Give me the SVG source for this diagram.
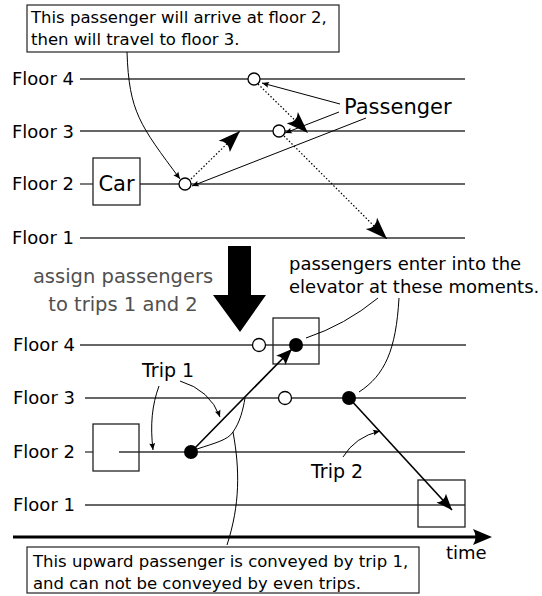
<svg xmlns="http://www.w3.org/2000/svg" width="542" height="596" viewBox="0 0 542 596">
<defs>
<style>
text{font-family:"DejaVu Sans","Liberation Sans",sans-serif;fill:#000}
.lbl{font-size:18px}
.note{font-size:16.5px}
.floor{stroke:#333;stroke-width:1.3;fill:none}
.box{stroke:#222;stroke-width:1.3;fill:none}
.thin{stroke:#000;stroke-width:1;fill:none}
.dot{stroke:#000;stroke-width:1.2;fill:none;stroke-dasharray:1.5,2}
.open{stroke:#000;stroke-width:1.3;fill:#fff}
.trip{stroke:#000;stroke-width:1.6;fill:none}
</style>
<marker id="big" markerUnits="userSpaceOnUse" markerWidth="30" markerHeight="24" viewBox="-24 -12 26 24" refX="0" refY="0" orient="auto">
<path d="M0,0 L-22,-8 Q-15,0 -22,8 Z" fill="#000"/>
</marker>
<marker id="mid" markerUnits="userSpaceOnUse" markerWidth="20" markerHeight="16" viewBox="-18 -8 20 16" refX="0" refY="0" orient="auto">
<path d="M0,0 L-16,-6.5 Q-11,0 -16,6.5 Z" fill="#000"/>
</marker>
<marker id="sm" markerUnits="userSpaceOnUse" markerWidth="10" markerHeight="8" viewBox="-9 -4 10 8" refX="0" refY="0" orient="auto">
<path d="M0,0 L-7,-3 Q-5,0 -7,3 Z" fill="#000"/>
</marker>
</defs>

<!-- top note -->
<g id="note-top">
<rect x="27" y="5" width="312" height="47" fill="#fff" stroke="#222" stroke-width="1.2"/>
<text class="note" x="31" y="23">This passenger will arrive at floor 2,</text>
<text class="note" x="31" y="45">then will travel to floor 3.</text>
</g>

<!-- top floors -->
<g id="top-floors">
<text class="lbl" x="12" y="85">Floor 4</text>
<text class="lbl" x="12" y="138">Floor 3</text>
<text class="lbl" x="12" y="190">Floor 2</text>
<text class="lbl" x="12" y="244">Floor 1</text>
<line class="floor" x1="80" y1="79" x2="465" y2="79"/>
<line class="floor" x1="80" y1="131" x2="465" y2="131"/>
<line class="floor" x1="80" y1="184" x2="93" y2="184"/>
<line class="floor" x1="140" y1="184" x2="465" y2="184"/>
<line class="floor" x1="80" y1="238" x2="465" y2="238"/>
</g>

<g id="car">
<rect class="box" x="93" y="158" width="47" height="47"/>
<text x="116.5" y="191" font-size="21" text-anchor="middle">Car</text>
</g>

<g id="passenger-label">
<text x="344" y="114" font-size="21">Passenger</text>
</g>

<g id="top-passengers">
<circle class="open" cx="254" cy="79" r="6"/>
<circle class="open" cx="279" cy="131" r="6"/>
<circle class="open" cx="185" cy="184" r="6"/>
</g>

<g id="top-connectors">
<path class="thin" d="M127,52 C129,112 140,125 180,179" marker-end="url(#sm)"/>
<line class="thin" x1="340" y1="104" x2="262" y2="83" marker-end="url(#sm)"/>
<line class="thin" x1="339" y1="112" x2="285" y2="133" marker-end="url(#sm)"/>
<line class="thin" x1="366" y1="118" x2="192" y2="186" marker-end="url(#sm)"/>
<line class="dot" x1="191" y1="179" x2="240" y2="131" marker-end="url(#big)"/>
<line class="dot" x1="258" y1="84" x2="308" y2="133" marker-end="url(#big)"/>
<line class="dot" x1="284" y1="136" x2="387" y2="239" marker-end="url(#big)"/>
</g>

<!-- transition -->
<g id="assign">
<polygon points="228,246 251,246 251,295 266,295 240,332 213,295 228,295" fill="#000"/>
<text x="123" y="283" font-size="19.5" fill="#505050" style="fill:#505050" text-anchor="middle">assign passengers</text>
<text x="123" y="311" font-size="19.5" fill="#505050" style="fill:#505050" text-anchor="middle">to trips 1 and 2</text>
</g>

<g id="enter-label">
<text class="lbl" x="289" y="270">passengers enter into the</text>
<text class="lbl" x="289" y="293">elevator at these moments.</text>
</g>

<!-- bottom floors -->
<g id="bottom-floors">
<text class="lbl" x="13" y="351">Floor 4</text>
<text class="lbl" x="13" y="404">Floor 3</text>
<text class="lbl" x="13" y="458">Floor 2</text>
<text class="lbl" x="13" y="511">Floor 1</text>
<line class="floor" x1="80" y1="345" x2="466" y2="345"/>
<line class="floor" x1="85" y1="398" x2="466" y2="398"/>
<line class="floor" x1="85" y1="452" x2="93" y2="452"/>
<line class="floor" x1="119" y1="452" x2="465" y2="452"/>
<line class="floor" x1="85" y1="505" x2="465" y2="505"/>
</g>

<g id="stop-floor2"><rect class="box" x="93" y="424" width="46" height="47"/></g>
<g id="stop-floor4"><rect class="box" x="273" y="318" width="46" height="46"/></g>
<g id="stop-floor1"><rect class="box" x="418" y="480" width="47" height="47"/></g>

<g id="bottom-passengers">
<circle class="open" cx="259" cy="345" r="6.5"/>
<circle class="open" cx="285" cy="398" r="6.5"/>
<circle cx="191" cy="452" r="7" fill="#000"/>
<circle cx="296" cy="345" r="7" fill="#000"/>
<circle cx="349" cy="398" r="7" fill="#000"/>
</g>

<g id="trip-labels">
<text x="142" y="377" font-size="19">Trip 1</text>
<text x="311" y="478" font-size="19">Trip 2</text>
<text class="lbl" x="446" y="559">time</text>
</g>

<g id="bottom-connectors">
<line class="trip" x1="191" y1="452" x2="292" y2="349" marker-end="url(#mid)"/>
<line class="trip" x1="349" y1="398" x2="452" y2="510" marker-end="url(#mid)"/>
<line x1="13" y1="537" x2="480" y2="537" stroke="#000" stroke-width="3"/>
<path d="M492,537 L473,529 Q478,537 473,545 Z" fill="#000"/>
<path class="thin" d="M159,386 C152,405 150,425 153,450" marker-end="url(#sm)"/>
<path class="thin" d="M180,381 Q210,390 220,417" marker-end="url(#sm)"/>
<path class="thin" d="M343,457 Q355,437 380,431" marker-end="url(#sm)"/>
<path class="thin" d="M227,545 C240,505 240,470 233,432"/>
<path class="thin" d="M197,449 C215,443 228,440 233,432 C240,422 243,410 245,398"/>
<path class="thin" d="M378,298 Q345,325 306,338"/>
<path class="thin" d="M399,298 C396,350 385,375 359,392"/>
</g>

<g id="note-bottom">
<rect x="27" y="547" width="392" height="46" fill="#fff" stroke="#222" stroke-width="1.2"/>
<text class="note" x="33" y="567">This upward passenger is conveyed by trip 1,</text>
<text class="note" x="33" y="589">and can not be conveyed by even trips.</text>
</g>
</svg>
